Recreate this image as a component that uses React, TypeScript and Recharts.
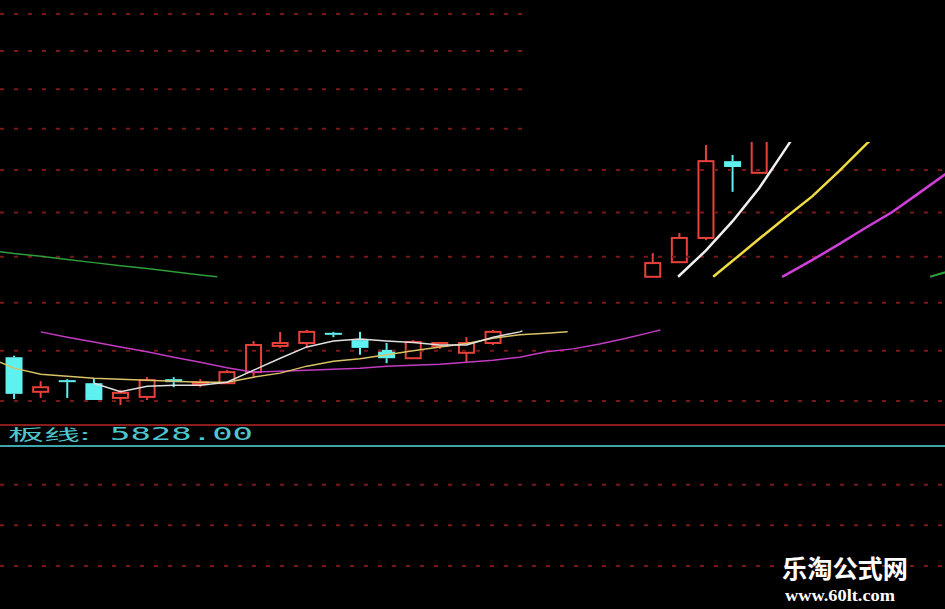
import { Bar, ComposedChart, Line, ReferenceLine, XAxis, YAxis } from "recharts"

// K线：位置、开、高、低、收
const slots = [0, 1, 2, 3, 4, 5, 6, 7, 8, 9, 10, 11, 12, 13, 14, 15, 16, 17, 18, 24, 25, 26, 27, 28]
const opens = [22.87, 22.18, 22.41, 22.35, 22.06, 22.08, 22.43, 22.35, 22.35, 22.57, 23.1, 23.16, 23.37, 23.22, 23.02, 22.85, 23.1, 22.96, 23.16, 24.56, 24.88, 25.42, 27.21, 26.93]
const highs = [22.9, 22.39, 22.43, 22.45, 22.22, 22.47, 22.47, 22.43, 22.61, 23.2, 23.39, 23.43, 23.39, 23.39, 23.16, 23.22, 23.18, 23.28, 23.43, 25.08, 25.53, 27.6, 27.36, 28.35]
const lows = [22.04, 22.06, 22.06, 22.02, 21.92, 22.02, 22.27, 22.27, 22.35, 22.47, 23.06, 23.06, 23.28, 22.92, 22.75, 22.85, 23.04, 22.75, 23.12, 24.56, 24.86, 25.37, 26.48, 26.93]
const closes = [22.14, 22.27, 22.37, 22.02, 22.16, 22.41, 22.37, 22.37, 22.57, 23.12, 23.16, 23.39, 23.33, 23.06, 22.85, 23.18, 23.16, 23.16, 23.39, 24.86, 25.42, 27.21, 27.07, 28.1]

// 均线 [位置, 价格]
const maWhiteA: [number, number][] = [
  [3, 22.35], [4, 22.18], [5, 22.29], [6, 22.31], [7, 22.31], [8, 22.37], [9, 22.61], [10, 22.85],
  [11, 23.08], [12, 23.2], [13, 23.24], [14, 23.2], [15, 23.17], [16, 23.12], [17, 23.12], [18, 23.28],
  [19, 23.39], [19.1, 23.41],
]
const maWhiteB: [number, number][] = [[24.95, 24.56], [26, 25.14], [27, 25.8], [28, 26.57], [29, 27.52], [30, 28.52]]
const maYellowA: [number, number][] = [
  [-0.53, 22.77], [0, 22.65], [1, 22.53], [2, 22.49], [3, 22.45], [4, 22.43], [5, 22.41], [6, 22.39],
  [7, 22.37], [8, 22.37], [9, 22.47], [10, 22.55], [11, 22.69], [12, 22.79], [13, 22.84], [14, 22.92],
  [15, 23.0], [16, 23.08], [17, 23.15], [18, 23.26], [19, 23.33], [20, 23.36], [20.8, 23.39],
]
const maYellowB: [number, number][] = [
  [26.27, 24.56], [27, 24.91], [28, 25.4], [29, 25.89], [30, 26.38], [31, 26.97], [32, 27.61], [33, 28.22],
]
const maPurpleA: [number, number][] = [
  [1, 23.39], [2, 23.28], [3, 23.18], [4, 23.08], [5, 22.98], [6, 22.87], [7, 22.77], [8, 22.66],
  [9, 22.57], [10, 22.59], [11, 22.61], [12, 22.63], [13, 22.65], [14, 22.69], [15, 22.71], [16, 22.73],
  [17, 22.77], [18, 22.81], [19, 22.87], [20, 22.98], [21, 23.04], [22, 23.14], [23, 23.26], [24, 23.39],
  [24.28, 23.43],
]
const maPurpleB: [number, number][] = [
  [28.86, 24.56], [29, 24.6], [30, 24.93], [31, 25.28], [32, 25.65], [33, 26.01], [34, 26.45], [35, 26.9],
]
const maGreenA: [number, number][] = [
  [-0.53, 25.11], [0, 25.07], [1, 25.01], [2, 24.94], [3, 24.87], [4, 24.8], [5, 24.74], [6, 24.67],
  [7, 24.6], [7.63, 24.56],
]
const maGreenB: [number, number][] = [[34.42, 24.56], [35, 24.66]]

const gridPrices = [22, 23, 24, 25, 26, 27, 28, 29, 30, 31]

const boardLine = 5828.0
const boardGrid = [5790, 5750, 5710]

const xDomain = [-0.53, 34.98]
const priceDomain = [21.537, 31.387]
const boardDomain = [5667.7, 5847.67]

const RED = "#e8403a"
const CYAN = "#5ff0f0"
const GRID = "#7a1818"
const BODY_W = 17

const candles = slots.map((i, k) => ({ i, open: opens[k], high: highs[k], low: lows[k], close: closes[k] }))
const toPoints = (arr: [number, number][]) => arr.map(([i, v]) => ({ i, v }))
const boardData = Array.from({ length: 37 }, (_, k) => ({ i: k - 1, v: boardLine }))

function Candle(props: any) {
  const { x, y, width, height, payload } = props
  const { open, close, high, low } = payload
  const top = Math.min(y, y + height)
  const h = Math.abs(height)
  const span = Math.log(high) - Math.log(low)
  const toY = (p: number) => (span > 0 ? top + (h * (Math.log(high) - Math.log(p))) / span : top)
  const up = close >= open
  const color = up ? RED : CYAN
  const cx = x + width / 2
  const left = cx - BODY_W / 2
  const bodyTop = toY(Math.max(open, close))
  const bodyH = Math.max(toY(Math.min(open, close)) - bodyTop, 2)
  return (
    <g>
      <line x1={cx} x2={cx} y1={top} y2={bodyTop} stroke={color} strokeWidth={2} />
      <line x1={cx} x2={cx} y1={bodyTop + bodyH} y2={top + h} stroke={color} strokeWidth={2} />
      {up ? (
        <rect x={left + 1} y={bodyTop} width={BODY_W - 2} height={bodyH} fill="none" stroke={color} strokeWidth={2} />
      ) : (
        <rect x={left} y={bodyTop} width={BODY_W} height={bodyH} fill={color} />
      )}
    </g>
  )
}

function MaLine({ data, color, width }: { data: [number, number][]; color: string; width: number }) {
  return (
    <Line
      data={toPoints(data)}
      dataKey="v"
      type="linear"
      stroke={color}
      strokeWidth={width}
      dot={false}
      activeDot={false}
      isAnimationActive={false}
    />
  )
}

export default function App() {
  return (
    <div style={{ position: "absolute", left: 0, top: 0, width: 945, height: 609, background: "#000", overflow: "hidden" }}>
      <div style={{ position: "absolute", left: 0, top: 0 }}>
        <ComposedChart width={945} height={425} data={candles} margin={{ top: 0, right: 0, bottom: 0, left: 0 }}>
          <XAxis dataKey="i" type="number" domain={xDomain} allowDataOverflow hide />
          <YAxis type="number" scale="log" domain={priceDomain} allowDataOverflow hide />
          {gridPrices.map((p) => (
            <ReferenceLine key={p} y={p} stroke={GRID} strokeWidth={2} strokeDasharray="4 10" />
          ))}
          {MaLine({ data: maGreenA, color: "#2e9e3a", width: 1.5 })}
          {MaLine({ data: maGreenB, color: "#2e9e3a", width: 2 })}
          {MaLine({ data: maPurpleA, color: "#c23bc2", width: 1.5 })}
          {MaLine({ data: maPurpleB, color: "#d040d8", width: 2.5 })}
          {MaLine({ data: maYellowA, color: "#d8c266", width: 1.5 })}
          {MaLine({ data: maYellowB, color: "#f0dc40", width: 2.5 })}
          <Bar dataKey={(d: any) => [d.low, d.high]} barSize={17} shape={Candle} isAnimationActive={false} />
          {MaLine({ data: maWhiteA, color: "#e0e0e0", width: 1.5 })}
          {MaLine({ data: maWhiteB, color: "#f0f0f0", width: 2.5 })}
        </ComposedChart>
      </div>
      <div style={{ position: "absolute", left: 530, top: 0, width: 415, height: 142, background: "#000" }} />
      <div style={{ position: "absolute", left: 0, top: 424, width: 945, height: 185, borderTop: "2px solid #8a1c1c" }}>
        <ComposedChart width={945} height={183} data={boardData} margin={{ top: 0, right: 0, bottom: 0, left: 0 }}>
          <XAxis dataKey="i" type="number" domain={xDomain} allowDataOverflow hide />
          <YAxis type="number" domain={boardDomain} allowDataOverflow hide />
          {boardGrid.map((v) => (
            <ReferenceLine key={v} y={v} stroke={GRID} strokeWidth={2} strokeDasharray="4 10" />
          ))}
          <Line dataKey="v" type="linear" stroke="#3ea6a6" strokeWidth={2} dot={false} activeDot={false} isAnimationActive={false} />
        </ComposedChart>
      </div>
      <svg width={945} height={609} style={{ position: "absolute", left: 0, top: 0 }}>
        <text x={8} y={440} fill="#4fc6cf" fontFamily="'Noto Sans CJK SC'" fontSize={15} textLength={82} lengthAdjust="spacingAndGlyphs">
          板线:
        </text>
        <text x={110} y={440} fill="#4fc6cf" fontFamily="'DejaVu Sans Mono'" fontSize={17} textLength={143} lengthAdjust="spacingAndGlyphs">
          {boardLine.toFixed(2)}
        </text>
        <text x={782} y={578} fill="#fff" fontFamily="'Noto Sans CJK SC'" fontWeight={700} fontSize={25} textLength={126} lengthAdjust="spacingAndGlyphs">
          乐淘公式网
        </text>
        <text x={785} y={601} fill="#fff" fontFamily="'Liberation Serif'" fontWeight={700} fontSize={17} textLength={110} lengthAdjust="spacingAndGlyphs">
          www.60lt.com
        </text>
      </svg>
    </div>
  )
}
